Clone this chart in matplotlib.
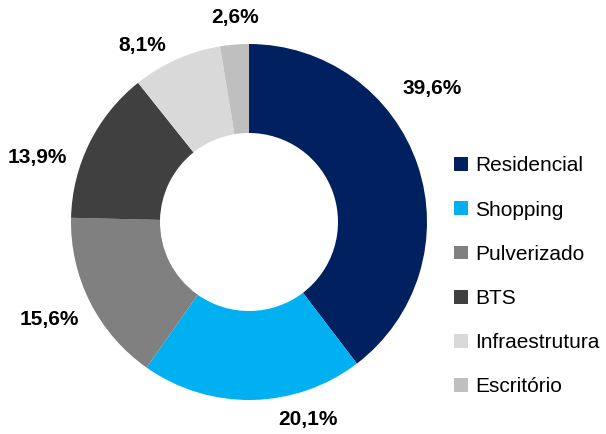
import matplotlib
matplotlib.use("Agg")
import matplotlib.pyplot as plt
from matplotlib import font_manager as fm

categories = ["Residencial", "Shopping", "Pulverizado", "BTS", "Infraestrutura", "Escritório"]
values = [39.6, 20.1, 15.6, 13.9, 8.1, 2.6]
labels = ["39,6%", "20,1%", "15,6%", "13,9%", "8,1%", "2,6%"]
colors = ["#002060", "#00b0f0", "#808080", "#404040", "#d9d9d9", "#bfbfbf"]
label_pos = [(1.03, 0.75), (0.33, -1.11), (-1.12, -0.55), (-1.19, 0.36), (-0.60, 0.99), (-0.08, 1.15)]

names = {f.name for f in fm.fontManager.ttflist}
fam = ["Liberation Sans Narrow", "Liberation Sans", "DejaVu Sans"]
fam = [f for f in fam if f in names] or ["DejaVu Sans"]
plt.rcParams["font.family"] = fam

W, H = 606, 434
fig = plt.figure(figsize=(W / 100, H / 100), dpi=100)
cx, cy, r = 249, 434 - 222, 178
ax = fig.add_axes([(cx - r) / W, (cy - r) / H, 2 * r / W, 2 * r / H])
wedges, _ = ax.pie(values, colors=colors, startangle=90, counterclock=False,
                   radius=1.0, wedgeprops=dict(width=0.5, linewidth=0))
ax.set_xlim(-1, 1)
ax.set_ylim(-1, 1)
ax.set_aspect("equal")
ax.axis("off")

for lab, (x, y) in zip(labels, label_pos):
    ax.text(x, y, lab, ha="center", va="center", fontsize=15, fontweight="bold",
            color="#000000", clip_on=False)

leg = fig.legend(wedges, categories, loc="upper left", bbox_to_anchor=(444 / W, 1 - 146 / H),
                 frameon=False, fontsize=15, handlelength=0.65, handleheight=0.65,
                 handletextpad=0.35, labelspacing=1.21, borderpad=0)

fig.savefig("out.png", dpi=100)
